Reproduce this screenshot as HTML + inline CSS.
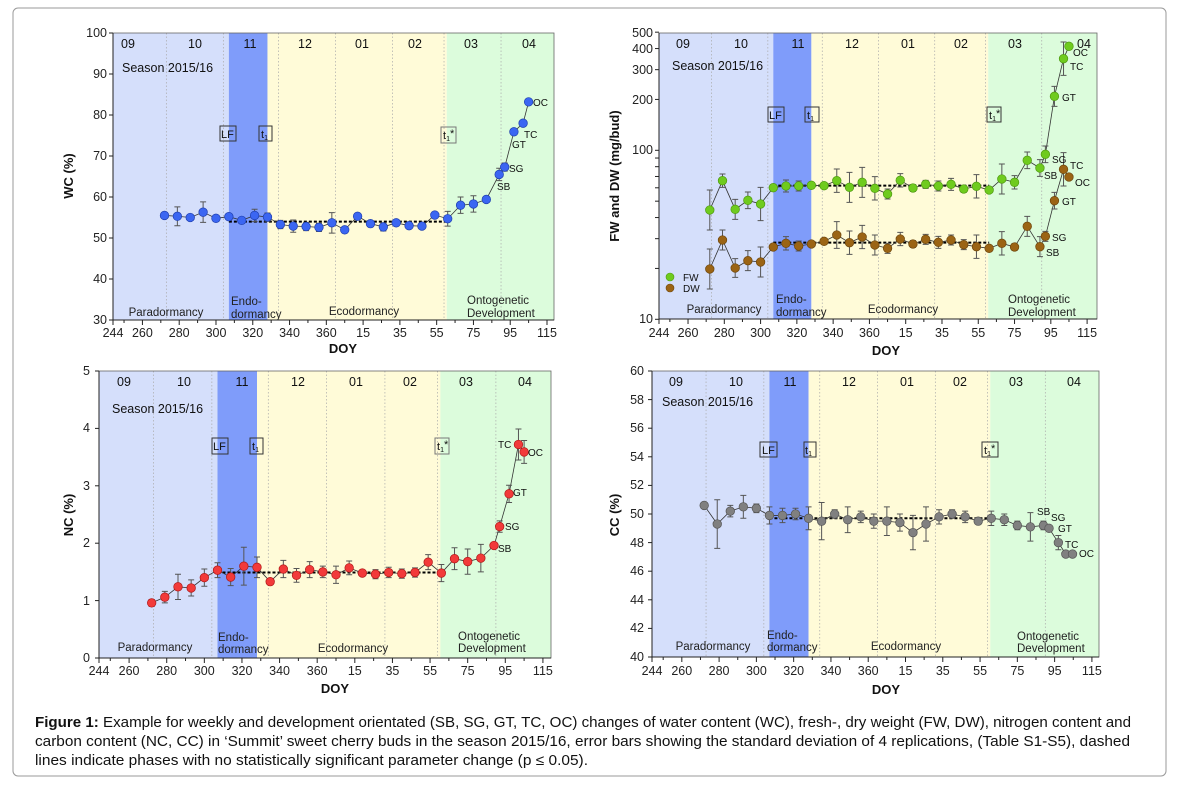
<!DOCTYPE html>
<html><head><meta charset="utf-8"><style>
html,body{margin:0;padding:0;background:#fff;}
svg{display:block;font-family:"Liberation Sans",Arial,sans-serif;}
.tk{font-size:12.5px;fill:#222;}
.xl{text-anchor:middle;}
.yl{text-anchor:end;}
.mo{font-size:12.5px;text-anchor:middle;fill:#111;}
.ss{font-size:12.5px;fill:#111;}
.ph{font-size:11.5px;fill:#222;}
.lb{font-size:10px;fill:#111;}
.at{font-size:13px;font-weight:bold;fill:#111;}
.bx{font-size:11px;fill:#111;}
.cap{font-size:14.5px;fill:#111;}
</style></head><body>
<svg width="1178" height="793" viewBox="0 0 1178 793">
<rect x="13" y="8" width="1153" height="768" rx="5" fill="#fff" stroke="#9a9a9a" stroke-width="1"/>
<g id="shapes"></g>

<!-- Panel 1 text -->
<g class="tk xl">
<text x="113" y="337">244</text><text x="142.4" y="337">260</text><text x="179.2" y="337">280</text><text x="216" y="337">300</text><text x="252.8" y="337">320</text><text x="289.5" y="337">340</text><text x="326.3" y="337">360</text><text x="363.1" y="337">15</text><text x="399.9" y="337">35</text><text x="436.7" y="337">55</text><text x="473.4" y="337">75</text><text x="510.2" y="337">95</text><text x="547" y="337">115</text>
</g>
<g class="tk yl">
<text x="107" y="324">30</text><text x="107" y="283">40</text><text x="107" y="242">50</text><text x="107" y="201">60</text><text x="107" y="160">70</text><text x="107" y="119">80</text><text x="107" y="78">90</text><text x="107" y="37">100</text>
</g>
<g class="mo"><text x="128" y="48">09</text><text x="195" y="48">10</text><text x="250" y="48">11</text><text x="305" y="48">12</text><text x="362" y="48">01</text><text x="415" y="48">02</text><text x="471" y="48">03</text><text x="529" y="48">04</text></g>
<text class="ss" x="122" y="72">Season 2015/16</text>
<g class="ph"><text x="166" y="316" text-anchor="middle">Paradormancy</text><text x="231" y="305">Endo-</text><text x="231" y="318">dormancy</text><text x="364" y="315" text-anchor="middle">Ecodormancy</text><text x="467" y="304">Ontogenetic</text><text x="467" y="317">Development</text></g>
<g class="lb"><text x="533" y="106">OC</text><text x="524" y="138">TC</text><text x="512" y="148">GT</text><text x="509" y="172">SG</text><text x="497" y="190">SB</text></g>
<text class="at" x="343" y="353" text-anchor="middle">DOY</text>
<text class="at" transform="translate(73,176) rotate(-90)" text-anchor="middle">WC (%)</text>

<!-- Panel 2 text -->
<g class="tk xl">
<text x="659" y="337">244</text><text x="688" y="337">260</text><text x="724.3" y="337">280</text><text x="760.6" y="337">300</text><text x="796.9" y="337">320</text><text x="833.1" y="337">340</text><text x="869.4" y="337">360</text><text x="905.7" y="337">15</text><text x="942" y="337">35</text><text x="978.3" y="337">55</text><text x="1014.5" y="337">75</text><text x="1050.8" y="337">95</text><text x="1087.1" y="337">115</text>
</g>
<g class="tk yl">
<text x="653" y="323">10</text><text x="653" y="154">100</text><text x="653" y="104">200</text><text x="653" y="74">300</text><text x="653" y="53">400</text><text x="653" y="37">500</text>
</g>
<g class="mo"><text x="683" y="48">09</text><text x="741" y="48">10</text><text x="798" y="48">11</text><text x="852" y="48">12</text><text x="908" y="48">01</text><text x="961" y="48">02</text><text x="1015" y="48">03</text><text x="1084" y="48">04</text></g>
<text class="ss" x="672" y="70">Season 2015/16</text>
<g class="ph"><text x="724" y="313" text-anchor="middle">Paradormancy</text><text x="776" y="303">Endo-</text><text x="776" y="316">dormancy</text><text x="903" y="313" text-anchor="middle">Ecodormancy</text><text x="1008" y="303">Ontogenetic</text><text x="1008" y="316">Development</text></g>
<g class="lb"><text x="1073" y="56">OC</text><text x="1070" y="70">TC</text><text x="1062" y="101">GT</text><text x="1052" y="163">SG</text><text x="1044" y="179">SB</text><text x="1070" y="169">TC</text><text x="1075" y="186">OC</text><text x="1062" y="205">GT</text><text x="1052" y="241">SG</text><text x="1046" y="256">SB</text></g>
<circle cx="670" cy="277" r="4" fill="#6fcb1e" stroke="#4e9a10" stroke-width=".6"/><circle cx="670" cy="288" r="4" fill="#9b6414" stroke="#6e460c" stroke-width=".6"/>
<g class="lb"><text x="683" y="281">FW</text><text x="683" y="292">DW</text></g>
<text class="at" x="886" y="355" text-anchor="middle">DOY</text>
<text class="at" transform="translate(619,176) rotate(-90)" text-anchor="middle">FW and DW (mg/bud)</text>

<!-- Panel 3 text -->
<g class="tk xl">
<text x="99" y="675">244</text><text x="129.1" y="675">260</text><text x="166.7" y="675">280</text><text x="204.3" y="675">300</text><text x="242" y="675">320</text><text x="279.6" y="675">340</text><text x="317.2" y="675">360</text><text x="354.8" y="675">15</text><text x="392.4" y="675">35</text><text x="430.1" y="675">55</text><text x="467.7" y="675">75</text><text x="505.3" y="675">95</text><text x="542.9" y="675">115</text>
</g>
<g class="tk yl">
<text x="90" y="662">0</text><text x="90" y="605">1</text><text x="90" y="547">2</text><text x="90" y="490">3</text><text x="90" y="432">4</text><text x="90" y="375">5</text>
</g>
<g class="mo"><text x="124" y="386">09</text><text x="184" y="386">10</text><text x="242" y="386">11</text><text x="298" y="386">12</text><text x="356" y="386">01</text><text x="410" y="386">02</text><text x="466" y="386">03</text><text x="525" y="386">04</text></g>
<text class="ss" x="112" y="413">Season 2015/16</text>
<g class="ph"><text x="155" y="651" text-anchor="middle">Paradormancy</text><text x="218" y="641">Endo-</text><text x="218" y="653">dormancy</text><text x="353" y="652" text-anchor="middle">Ecodormancy</text><text x="458" y="640">Ontogenetic</text><text x="458" y="652">Development</text></g>
<g class="lb"><text x="498" y="448">TC</text><text x="528" y="456">OC</text><text x="513" y="496">GT</text><text x="505" y="530">SG</text><text x="498" y="552">SB</text></g>
<text class="at" x="335" y="693" text-anchor="middle">DOY</text>
<text class="at" transform="translate(73,515) rotate(-90)" text-anchor="middle">NC (%)</text>

<!-- Panel 4 text -->
<g class="tk xl">
<text x="652" y="675">244</text><text x="681.8" y="675">260</text><text x="719.1" y="675">280</text><text x="756.4" y="675">300</text><text x="793.7" y="675">320</text><text x="830.9" y="675">340</text><text x="868.2" y="675">360</text><text x="905.5" y="675">15</text><text x="942.8" y="675">35</text><text x="980.1" y="675">55</text><text x="1017.4" y="675">75</text><text x="1054.7" y="675">95</text><text x="1091.9" y="675">115</text>
</g>
<g class="tk yl">
<text x="644" y="661">40</text><text x="644" y="632">42</text><text x="644" y="604">44</text><text x="644" y="575">46</text><text x="644" y="547">48</text><text x="644" y="518">50</text><text x="644" y="489">52</text><text x="644" y="461">54</text><text x="644" y="432">56</text><text x="644" y="404">58</text><text x="644" y="375">60</text>
</g>
<g class="mo"><text x="676" y="386">09</text><text x="736" y="386">10</text><text x="790" y="386">11</text><text x="849" y="386">12</text><text x="907" y="386">01</text><text x="960" y="386">02</text><text x="1016" y="386">03</text><text x="1074" y="386">04</text></g>
<text class="ss" x="662" y="406">Season 2015/16</text>
<g class="ph"><text x="713" y="650" text-anchor="middle">Paradormancy</text><text x="767" y="639">Endo-</text><text x="767" y="651">dormancy</text><text x="906" y="650" text-anchor="middle">Ecodormancy</text><text x="1017" y="640">Ontogenetic</text><text x="1017" y="652">Development</text></g>
<g class="lb"><text x="1037" y="515">SB</text><text x="1051" y="521">SG</text><text x="1058" y="532">GT</text><text x="1065" y="548">TC</text><text x="1079" y="557">OC</text></g>
<text class="at" x="886" y="694" text-anchor="middle">DOY</text>
<text class="at" transform="translate(619,515) rotate(-90)" text-anchor="middle">CC (%)</text>

<!-- boxes -->
<g fill="none" stroke="#333" stroke-width="1">
<rect x="220" y="126" width="16" height="15"/><rect x="259" y="126" width="13" height="15"/><rect x="441" y="127" width="15" height="16" stroke="#777"/>
<rect x="768" y="107" width="16" height="15"/><rect x="805" y="107" width="14" height="15"/><rect x="987" y="107" width="14" height="15"/>
<rect x="212" y="438" width="16" height="16"/><rect x="250" y="438" width="13" height="16"/><rect x="435" y="438" width="14" height="16" stroke="#777"/>
<rect x="760" y="442" width="17" height="15"/><rect x="804" y="442" width="12" height="15"/><rect x="982" y="442" width="16" height="15"/>
</g>
<g class="bx">
<text x="221" y="138">LF</text><text x="261" y="138">t<tspan font-size="7" dy="2">1</tspan></text><text x="443" y="139">t<tspan font-size="7" dy="2">1</tspan><tspan dy="-4">*</tspan></text>
<text x="769" y="119">LF</text><text x="807" y="119">t<tspan font-size="7" dy="2">1</tspan></text><text x="989" y="119">t<tspan font-size="7" dy="2">1</tspan><tspan dy="-4">*</tspan></text>
<text x="213" y="450">LF</text><text x="252" y="450">t<tspan font-size="7" dy="2">1</tspan></text><text x="437" y="450">t<tspan font-size="7" dy="2">1</tspan><tspan dy="-4">*</tspan></text>
<text x="762" y="454">LF</text><text x="805" y="454">t<tspan font-size="7" dy="2">1</tspan></text><text x="984" y="454">t<tspan font-size="7" dy="2">1</tspan><tspan dy="-4">*</tspan></text>
</g>

<!-- caption -->
<text class="cap" x="35" y="727" textLength="1096" lengthAdjust="spacingAndGlyphs"><tspan font-weight="bold">Figure 1:</tspan> Example for weekly and development orientated (SB, SG, GT, TC, OC) changes of water content (WC), fresh-, dry weight (FW, DW), nitrogen content and</text>
<text class="cap" x="35" y="746" textLength="1095" lengthAdjust="spacingAndGlyphs">carbon content (NC, CC) in ‘Summit’ sweet cherry buds in the season 2015/16, error bars showing the standard deviation of 4 replications, (Table S1-S5), dashed</text>
<text class="cap" x="35" y="765" textLength="553" lengthAdjust="spacingAndGlyphs">lines indicate phases with no statistically significant parameter change (p ≤ 0.05).</text>
</svg>
<script>
var D=[];for(var i=0;i<26;i++)D.push(272+7*i);D.push(454,457,462,467,470);
var h='';
function panel(c){
  var X=function(d){return c.x0+(d-244)*c.k;};
  var B=[[244,307,'#d5dffb'],[307,328,'#7f9cfa'],[328,425.5,'#fffbd8']];
  B.forEach(function(b){h+='<rect x="'+X(b[0])+'" y="'+c.t+'" width="'+(X(b[1])-X(b[0]))+'" height="'+(c.b-c.t)+'" fill="'+b[2]+'"/>';});
  h+='<rect x="'+X(425.5)+'" y="'+c.t+'" width="'+(c.r-X(425.5))+'" height="'+(c.b-c.t)+'" fill="#dcfcdc"/>';
  [273,304,334,365,396,424,455].forEach(function(d){h+='<line x1="'+X(d)+'" x2="'+X(d)+'" y1="'+c.t+'" y2="'+c.b+'" stroke="#aaa" stroke-width=".7" stroke-dasharray="1.5,2"/>';});
  h+='<rect x="'+c.x0+'" y="'+c.t+'" width="'+(c.r-c.x0)+'" height="'+(c.b-c.t)+'" fill="none" stroke="#666" stroke-width=".8"/>';
  h+='<line x1="'+c.x0+'" x2="'+c.x0+'" y1="'+c.t+'" y2="'+c.b+'" stroke="#222" stroke-width="1"/>';
  h+='<line x1="'+c.x0+'" x2="'+c.r+'" y1="'+c.b+'" y2="'+c.b+'" stroke="#222" stroke-width="1"/>';
  var xt=[244];for(var d=250;d<=480;d+=10)xt.push(d);
  xt.forEach(function(d){var big=(d===244||(d-240)%20===0);h+='<line x1="'+X(d)+'" x2="'+X(d)+'" y1="'+c.b+'" y2="'+(c.b+(big?5:3))+'" stroke="#222"/>';});
  c.yt.forEach(function(y){h+='<line x1="'+(c.x0-4)+'" x2="'+c.x0+'" y1="'+y+'" y2="'+y+'" stroke="#222"/>';});
  c.dash.forEach(function(y){h+='<line x1="'+X(307)+'" x2="'+X(426)+'" y1="'+y+'" y2="'+y+'" stroke="#000" stroke-width="2" stroke-dasharray="3,2"/>';});
  c.series.forEach(function(s){
    var days=s.days||D;
    var pts=days.map(function(d,i){return X(d)+','+s.y[i];}).join(' ');
    h+='<polyline points="'+pts+'" fill="none" stroke="#333" stroke-width=".8"/>';
    days.forEach(function(d,i){var e=s.e[i];if(e>0.5){var x=X(d),y=s.y[i];
      h+='<path d="M'+x+' '+(y-e)+'V'+(y+e)+'M'+(x-3)+' '+(y-e)+'H'+(x+3)+'M'+(x-3)+' '+(y+e)+'H'+(x+3)+'" stroke="#555" stroke-width="1" fill="none"/>';}});
    days.forEach(function(d,i){h+='<circle cx="'+X(d)+'" cy="'+s.y[i]+'" r="4.3" fill="'+s.f+'" stroke="'+s.s+'" stroke-width=".7"/>';});
  });
}
// Panel 1
var y1=function(v){return 320-(v-30)*4.1;};
var WC=[55.5,55.3,55.0,56.3,54.8,55.2,54.3,55.5,55.1,53.3,52.9,52.8,52.6,53.7,52.0,55.3,53.5,52.7,53.7,53.0,52.9,55.6,54.7,58.0,58.3,59.4,65.5,67.3,75.9,78.0,83.2];
var WCe=[0,2.3,0,2.5,0.5,0,0,1.5,1,1,1.5,1,1,2.5,0,0,0,1,0,0.5,0.5,0,1.8,2,2,0,1.5,1,0,0,0];
panel({x0:113,k:1.839,t:33,b:320,r:554,yt:[30,40,50,60,70,80,90,100].map(y1),dash:[y1(54)],
 series:[{y:WC.map(y1),e:WCe.map(function(e){return e*4.1;}),f:'#3b66f2',s:'#2040b0'}]});
// Panel 2
var py=function(z){return 20+z/3;};
var FW=[570,482,568,541,552,503,498,498,496,497,482,502,487,505,522,481,504,493,498,493,507,499,510,477,487,421,444,403,229,116,79];
var FWe=[60,20,30,25,50,8,18,15,5,0,35,45,45,35,15,20,10,12,15,18,10,35,8,45,20,25,25,25,30,50,0];
var DW=[747,660,744,722,726,681,670,678,672,664,645,668,651,675,685,657,672,658,667,660,674,680,685,670,681,619,680,649,542,448,471];
var DWe=[60,30,28,30,45,8,20,15,5,0,40,35,35,30,15,20,10,15,18,15,15,35,5,35,10,30,30,15,25,50,0];
var ly=function(v){return 150.3-169*(Math.log(v)/Math.LN10-2);};
var yt2=[];[10,20,30,40,50,60,70,80,90,100,200,300,400,500].forEach(function(v){yt2.push(ly(v));});
panel({x0:659,k:1.814,t:33,b:319,r:1097,yt:yt2,dash:[py(497),py(668)],
 series:[{y:FW.map(py),e:FWe.map(function(e){return e/3;}),f:'#6fcb1e',s:'#4e9a10'},
         {y:DW.map(py),e:DWe.map(function(e){return e/3;}),f:'#9b6414',s:'#6e460c'}]});
// Panel 3
var y3=function(v){return 658-v*57.4;};
var NC=[0.96,1.06,1.24,1.22,1.40,1.53,1.41,1.60,1.58,1.33,1.55,1.44,1.54,1.50,1.45,1.57,1.48,1.46,1.49,1.47,1.49,1.67,1.48,1.73,1.68,1.74,1.96,2.29,2.86,3.72,3.59];
var NCe=[.06,.1,.22,.14,.15,.13,.15,.33,.18,.05,.15,.12,.14,.1,.15,.12,.04,.08,.09,.08,.08,.13,.15,.19,.22,.24,.03,.1,.15,.27,.2];
panel({x0:99,k:1.881,t:371,b:658,r:551,yt:[0,1,2,3,4,5].map(y3),dash:[y3(1.49)],
 series:[{y:NC.map(y3),e:NCe.map(function(e){return e*57.4;}),f:'#f23a3a',s:'#b01818'}]});
// Panel 4
var y4=function(v){return 657-(v-40)*14.3;};
var CC=[50.6,49.3,50.2,50.5,50.4,49.9,49.9,50.0,49.7,49.5,50.0,49.6,49.8,49.5,49.5,49.4,48.7,49.3,49.8,50.0,49.8,49.5,49.7,49.6,49.2,49.1,49.2,49.0,48.0,47.2,47.2];
var CCe=[0,1.7,.4,.8,.3,.6,.5,.4,.8,1.3,.3,.9,.4,.5,1.0,.6,1.2,1.2,.5,.3,.4,.1,.5,.4,.3,1.0,.3,.1,.5,0,0];
var D4=D.slice(0,29).concat([466,469.6]);
panel({x0:652,k:1.864,t:371,b:657,r:1099,yt:[40,42,44,46,48,50,52,54,56,58,60].map(y4),dash:[y4(49.7)],
 series:[{days:D4,y:CC.map(y4),e:CCe.map(function(e){return e*14.3;}),f:'#808080',s:'#555'}]});
document.getElementById('shapes').innerHTML=h;
</script>
</body></html>
